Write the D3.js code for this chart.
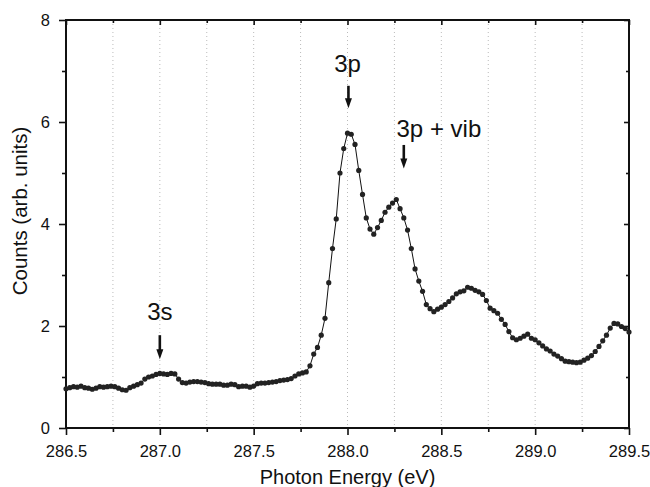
<!DOCTYPE html>
<html>
<head>
<meta charset="utf-8">
<script src="https://cdn.jsdelivr.net/npm/d3@7"></script>
<style>
  body { margin: 0; background: #fff; }
  text { font-family: "Liberation Sans", Arial, sans-serif; fill: #111; }
</style>
</head>
<body>
<script>
//photon energy of each measured point (eV)
var energy = [286.50,286.52,286.54,286.56,286.58,286.60,286.62,286.64,286.66,286.68,
  286.70,286.72,286.74,286.76,286.78,286.80,286.82,286.84,286.86,286.88,
  286.90,286.92,286.94,286.96,286.98,287.00,287.02,287.04,287.06,287.08,
  287.10,287.12,287.14,287.16,287.18,287.20,287.22,287.24,287.26,287.28,
  287.30,287.32,287.34,287.36,287.38,287.40,287.42,287.44,287.46,287.48,
  287.50,287.52,287.54,287.56,287.58,287.60,287.62,287.64,287.66,287.68,
  287.70,287.72,287.74,287.76,287.78,287.80,287.82,287.84,287.86,287.88,
  287.90,287.92,287.94,287.96,287.98,288.00,288.02,288.04,288.06,288.08,
  288.10,288.12,288.14,288.16,288.18,288.20,288.22,288.24,288.26,288.28,
  288.30,288.32,288.34,288.36,288.38,288.40,288.42,288.44,288.46,288.48,
  288.50,288.52,288.54,288.56,288.58,288.60,288.62,288.64,288.66,288.68,
  288.70,288.72,288.74,288.76,288.78,288.80,288.82,288.84,288.86,288.88,
  288.90,288.92,288.94,288.96,288.98,289.00,289.02,289.04,289.06,289.08,
  289.10,289.12,289.14,289.16,289.18,289.20,289.22,289.24,289.26,289.28,
  289.30,289.32,289.34,289.36,289.38,289.40,289.42,289.44,289.46,289.48,289.50];

//counts (arb. units)
var counts = [0.77,0.79,0.81,0.80,0.82,0.79,0.78,0.76,0.78,0.81,
  0.80,0.81,0.82,0.81,0.78,0.75,0.74,0.79,0.82,0.85,
  0.88,0.96,1.00,1.02,1.05,1.07,1.06,1.05,1.07,1.06,
  0.96,0.89,0.88,0.90,0.91,0.91,0.90,0.89,0.87,0.86,
  0.86,0.86,0.84,0.84,0.86,0.85,0.81,0.82,0.82,0.80,
  0.82,0.87,0.88,0.88,0.89,0.90,0.91,0.93,0.94,0.95,
  0.97,1.02,1.06,1.08,1.10,1.22,1.45,1.58,1.82,2.15,
  2.85,3.52,4.10,5.00,5.48,5.78,5.76,5.56,5.05,4.58,
  4.12,3.90,3.80,3.93,4.07,4.23,4.33,4.41,4.48,4.30,
  4.12,3.88,3.52,3.12,2.88,2.68,2.42,2.34,2.28,2.33,
  2.37,2.42,2.48,2.55,2.63,2.67,2.69,2.76,2.74,2.70,
  2.67,2.62,2.50,2.35,2.30,2.25,2.13,2.03,1.89,1.77,
  1.73,1.76,1.80,1.84,1.76,1.73,1.67,1.61,1.55,1.51,
  1.45,1.41,1.36,1.31,1.30,1.29,1.28,1.29,1.33,1.37,
  1.42,1.50,1.60,1.71,1.82,1.96,2.05,2.04,1.99,1.95,1.88];

//tick values
var xMajor = [286.5, 287.0, 287.5, 288.0, 288.5, 289.0, 289.5];
var xMinor = [286.75, 287.25, 287.75, 288.25, 288.75, 289.25];
var yMajor = [0, 2, 4, 6, 8];
var yMinor = [1, 3, 5, 7];

//peak labels (positions in data units)
var peakLabels = ["3s", "3p", "3p + vib"];
var arrowEnergy = [287.0, 288.005, 288.30];
var arrowTop = [1.82, 6.71, 5.55];
var arrowTip = [1.35, 6.27, 5.09];
var labelEnergy = [287.0, 288.0, 288.487];
var labelBase = [2.12, 6.98, 5.71];

//SVG dimension variables
var w = 650, h = 487;
var margin = {left: 66, right: 21, top: 20, bottom: 59};

var container = d3.select("body") //get the <body> element
    .append("svg")
    .attr("width", w)
    .attr("height", h);

var x = d3.scaleLinear()
    .domain([286.5, 289.5])
    .range([margin.left, w - margin.right]);

var y = d3.scaleLinear()
    .domain([0, 8])
    .range([h - margin.bottom, margin.top]);

//faint dotted vertical grid
container.append("g")
    .selectAll("line")
    .data(xMajor.concat(xMinor).filter(function(d){ return d > 286.5 && d < 289.5; }))
    .enter().append("line")
    .attr("x1", function(d){ return x(d); })
    .attr("x2", function(d){ return x(d); })
    .attr("y1", y(8))
    .attr("y2", y(0))
    .style("stroke", "#aaa")
    .style("stroke-width", 0.8)
    .style("stroke-dasharray", "1,3");

//axes: bottom/left ticks out, top/right ticks in
function styleAxis(g){
    g.select(".domain").remove();
    g.selectAll("line").style("stroke", "#111").style("stroke-width", 1.6);
    g.selectAll("text").style("font-size", "16.5px");
}

container.append("g")
    .attr("transform", "translate(0," + y(0) + ")")
    .call(d3.axisBottom(x).tickValues(xMajor).tickSize(7).tickPadding(10).tickFormat(d3.format(".1f")))
    .call(styleAxis);
container.append("g")
    .attr("transform", "translate(0," + y(0) + ")")
    .call(d3.axisBottom(x).tickValues(xMinor).tickSize(4).tickFormat(""))
    .call(styleAxis);
container.append("g")
    .attr("transform", "translate(" + x(286.5) + ",0)")
    .call(d3.axisLeft(y).tickValues(yMajor).tickSize(7).tickPadding(9).tickFormat(d3.format("d")))
    .call(styleAxis);
container.append("g")
    .attr("transform", "translate(" + x(286.5) + ",0)")
    .call(d3.axisLeft(y).tickValues(yMinor).tickSize(4).tickFormat(""))
    .call(styleAxis);
container.append("g")
    .attr("transform", "translate(0," + y(8) + ")")
    .call(d3.axisTop(x).tickValues(xMajor).tickSize(-5).tickFormat(""))
    .call(styleAxis);
container.append("g")
    .attr("transform", "translate(0," + y(8) + ")")
    .call(d3.axisTop(x).tickValues(xMinor).tickSize(-3).tickFormat(""))
    .call(styleAxis);
container.append("g")
    .attr("transform", "translate(" + x(289.5) + ",0)")
    .call(d3.axisRight(y).tickValues(yMajor).tickSize(-5).tickFormat(""))
    .call(styleAxis);
container.append("g")
    .attr("transform", "translate(" + x(289.5) + ",0)")
    .call(d3.axisRight(y).tickValues(yMinor).tickSize(-3).tickFormat(""))
    .call(styleAxis);

//frame
container.append("rect")
    .attr("x", x(286.5))
    .attr("y", y(8))
    .attr("width", x(289.5) - x(286.5))
    .attr("height", y(0) - y(8))
    .style("fill", "none")
    .style("stroke", "#111")
    .style("stroke-width", 2);

//the spectrum
var pts = energy.map(function(e, i){ return [e, counts[i]]; });

container.append("path")
    .datum(pts)
    .attr("d", d3.line().x(function(d){ return x(d[0]); }).y(function(d){ return y(d[1]); }))
    .style("fill", "none")
    .style("stroke", "#111")
    .style("stroke-width", 1);

container.append("g")
    .selectAll("circle")
    .data(pts)
    .enter().append("circle")
    .attr("cx", function(d){ return x(d[0]); })
    .attr("cy", function(d){ return y(d[1]); })
    .attr("r", 2.6)
    .style("fill", "#222");

//arrows + labels
peakLabels.forEach(function(lab, i){
    var ax = x(arrowEnergy[i]), ay0 = y(arrowTop[i]), ay1 = y(arrowTip[i]);
    container.append("line") //shaft
        .attr("x1", ax).attr("x2", ax)
        .attr("y1", ay0).attr("y2", ay1 - 8)
        .style("stroke", "#111")
        .style("stroke-width", 2.6);
    container.append("path") //head
        .attr("d", "M" + (ax - 3.5) + "," + (ay1 - 10) + "L" + (ax + 3.5) + "," + (ay1 - 10) + "L" + ax + "," + ay1 + "Z")
        .style("fill", "#111");
    container.append("text")
        .attr("x", x(labelEnergy[i]))
        .attr("y", y(labelBase[i]))
        .attr("text-anchor", "middle")
        .style("font-size", "24px")
        .text(lab);
});

//axis titles
container.append("text")
    .attr("x", (x(286.5) + x(289.5)) / 2)
    .attr("y", 484)
    .attr("text-anchor", "middle")
    .style("font-size", "20px")
    .text("Photon Energy (eV)");

container.append("text")
    .attr("transform", "translate(27,211) rotate(-90)")
    .attr("text-anchor", "middle")
    .style("font-size", "20.5px")
    .text("Counts (arb. units)");
</script>
</body>
</html>
